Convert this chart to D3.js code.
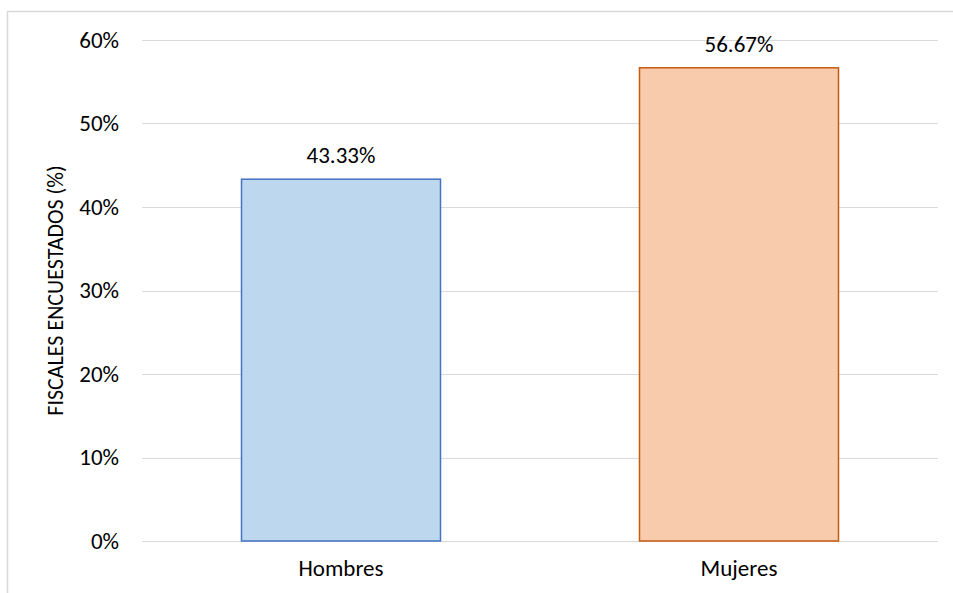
<!DOCTYPE html>
<html>
<head>
<meta charset="utf-8">
<script src="https://cdn.jsdelivr.net/npm/d3@7"></script>
<style>
  body { margin: 0; background: #fff; }
  svg { display: block; }
  svg text { font-family: Carlito, Calibri, "Open Sans", sans-serif; fill: #000; }
  .grid line { stroke: #d9d9d9; stroke-width: 1; }
  .axis text { font-size: 23px; }
</style>
</head>
<body>
<svg class="chart"></svg>
<script>
var categories = ["Hombres", "Mujeres"];
var values = [43.33, 56.67];
var tickValues = [0, 10, 20, 30, 40, 50, 60];
var fills = ["#bdd7ee", "#f8cbad"];
var strokes = ["#4472c4", "#c55a11"];

var width = 953, height = 593;
var margin = {top: 40, right: 15, bottom: 52, left: 142};

var svg = d3.select(".chart")
    .attr("width", width)
    .attr("height", height);

// chart frame (clipped at right/bottom like the original)
svg.append("rect")
    .attr("x", 7.5)
    .attr("y", 11.5)
    .attr("width", 960)
    .attr("height", 600)
    .attr("fill", "none")
    .attr("stroke", "#d9d9d9")
    .attr("stroke-width", 1.5);

var x = d3.scaleBand()
    .domain(categories)
    .range([margin.left, width - margin.right])
    .paddingInner(0.5)
    .paddingOuter(0.25);

var y = d3.scaleLinear()
    .domain([0, 60])
    .range([height - margin.bottom, margin.top]);

// gridlines
svg.append("g")
    .attr("class", "grid")
    .selectAll("line")
    .data(tickValues)
    .enter().append("line")
    .attr("x1", margin.left)
    .attr("x2", width - margin.right)
    .attr("y1", function(d) { return Math.round(y(d)) + 0.5; })
    .attr("y2", function(d) { return Math.round(y(d)) + 0.5; });

// y axis labels
var yAxis = d3.axisLeft(y)
    .tickValues(tickValues)
    .tickSize(0)
    .tickPadding(23)
    .tickFormat(function(d) { return d + "%"; });

svg.append("g")
    .attr("class", "axis")
    .attr("transform", "translate(" + margin.left + ",0)")
    .call(yAxis)
    .call(function(g) {
        g.select(".domain").remove();
        g.attr("font-family", null).attr("font-size", null);
    });

// x axis labels
var xAxis = d3.axisBottom(x).tickSize(0).tickPadding(19);
svg.append("g")
    .attr("class", "axis")
    .attr("transform", "translate(0," + y(0) + ")")
    .call(xAxis)
    .call(function(g) {
        g.select(".domain").remove();
        g.attr("font-family", null).attr("font-size", null);
    });

// bars
var bar = svg.selectAll(".bar")
    .data(values)
    .enter().append("g")
    .attr("class", "bar");

bar.append("rect")
    .attr("x", function(d, i) { return x(categories[i]); })
    .attr("y", function(d) { return y(d); })
    .attr("width", x.bandwidth())
    .attr("height", function(d) { return y(0) - y(d); })
    .attr("fill", function(d, i) { return fills[i]; })
    .attr("stroke", function(d, i) { return strokes[i]; })
    .attr("stroke-width", 1.5);

bar.append("text")
    .attr("x", function(d, i) { return x(categories[i]) + x.bandwidth() / 2; })
    .attr("y", function(d) { return y(d) - 16; })
    .attr("text-anchor", "middle")
    .style("font-size", "23px")
    .text(function(d) { return d.toFixed(2) + "%"; });

// axis title
svg.append("text")
    .attr("transform", "translate(63," + y(30) + ") rotate(-90)")
    .attr("text-anchor", "middle")
    .style("font-size", "22px")
    .text("FISCALES ENCUESTADOS (%)");
</script>
</body>
</html>
